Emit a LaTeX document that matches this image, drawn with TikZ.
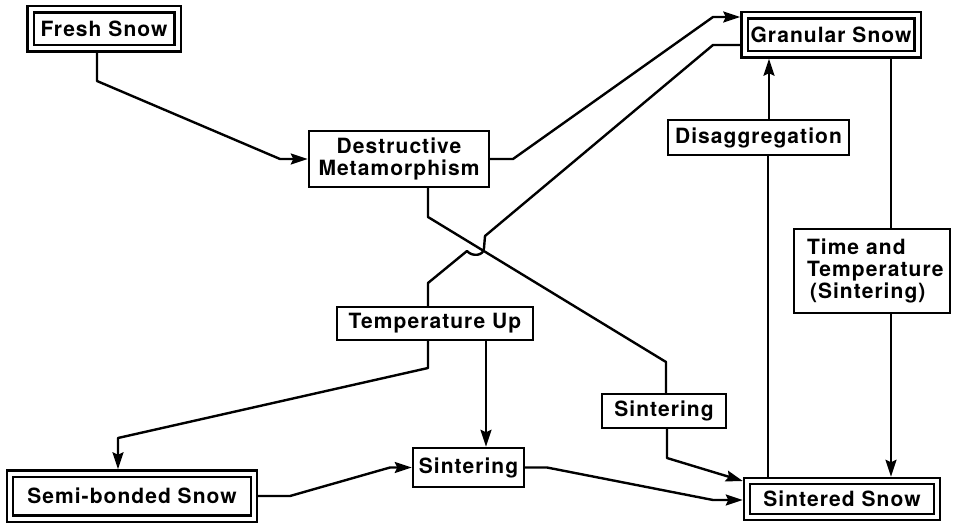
\documentclass[tikz,border=0pt]{standalone}
\usepackage{fontspec}
\setmainfont{TeX Gyre Heros}[LetterSpace=5]
\usetikzlibrary{arrows.meta}
\begin{document}
\begin{tikzpicture}[x=1pt,y=-1pt,
  every node/.style={font=\fontsize{21}{22}\selectfont\bfseries, inner sep=0pt},
  box/.style={draw, line width=2.4pt, outer sep=1.2pt},
  dbox/.style={draw, line width=2.2pt, double=white, double distance=4pt, outer sep=4.2pt},
  conn/.style={line width=2.4pt, line join=round},
  arr/.style={conn, -{Stealth[length=17pt,width=11pt,inset=2.5pt]}}]
\useasboundingbox (0,0) rectangle (953,524);

\node[dbox, minimum width=147pt, minimum height=39pt] (fresh) at (104,29) {Fresh Snow};
\node[box, minimum width=180pt, minimum height=56pt, align=center] (dest) at (399,159) {Destructive\\Metamorphism};
\node[dbox, minimum width=173pt, minimum height=39pt] (gran) at (831,35) {Granular Snow};
\node[box, minimum width=181pt, minimum height=35pt] (disag) at (758.5,137.5) {Disaggregation};
\node[box, minimum height=84pt, text width=130pt, inner xsep=13pt, align=left] (time) at (872,271) {Time and\\Temperature\\\hspace*{3pt}(Sintering)};
\node[box, minimum width=196pt, minimum height=33pt] (temp) at (435,323.5) {Temperature Up};
\node[box, minimum width=124pt, minimum height=34pt] (sintr) at (664,411) {Sintering};
\node[box, minimum width=111pt, minimum height=39pt] (sintm) at (468.5,467.5) {Sintering};
\node[dbox, minimum width=244pt, minimum height=45pt] (semi) at (132,496) {Semi-bonded Snow};
\node[dbox, minimum width=190pt, minimum height=36pt] (sinted) at (842,499) {Sintered Snow};

\draw[arr] ([xshift=-7pt]fresh.south) -- (97,81) -- (280,159) -- (dest.west);
\draw[arr] (dest.east) -- (513,159) -- (713,17) -- ([yshift=18pt]gran.west);
\draw[conn] ([yshift=-10pt]gran.west) -- (713,45) -- (485,236) -- (484,248)
  .. controls (484,256) and (472,257) .. (467,251) -- (428,283) -- ([xshift=-7pt]temp.north);
\draw[conn] ([xshift=29pt]dest.south) -- (428,217) -- (666,362) -- ([xshift=2pt]sintr.north);
\draw[arr] ([xshift=-7pt]temp.south) -- (428,368) -- (118,438) -- ([xshift=-14pt]semi.north);
\draw[arr] ([xshift=51pt]temp.south) -- ([xshift=17.5pt]sintm.north);
\draw[arr] (semi.east) -- (290,496) -- (390,467.5) -- (sintm.west);
\draw[arr] (sintm.east) -- (547,467.5) -- (713,500) -- ([yshift=-1pt]sinted.west);
\draw[arr] ([xshift=3pt]sintr.south) -- (667,458) -- ([yshift=18pt]sinted.west);
\draw[conn] ([xshift=-74pt]sinted.north) -- ([xshift=9.5pt]disag.south);
\draw[arr] ([xshift=10.5pt]disag.north) -- ([xshift=-62pt]gran.south);
\draw[conn] ([xshift=60pt]gran.south) -- ([xshift=19pt]time.north);
\draw[arr] ([xshift=19pt]time.south) -- ([xshift=49pt]sinted.north);
\end{tikzpicture}
\end{document}
